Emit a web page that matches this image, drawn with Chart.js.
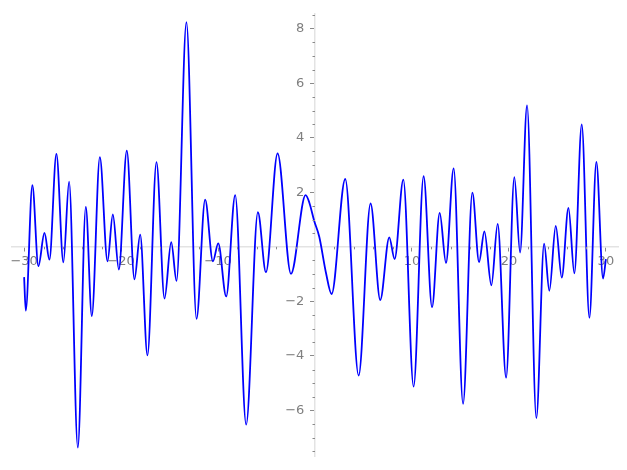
<!DOCTYPE html>
<html>
<head>
<meta charset="utf-8">
<script src="https://cdn.jsdelivr.net/npm/chart.js@4/dist/chart.umd.min.js"></script>
<style>
  html, body { margin: 0; padding: 0; background: #ffffff; }
  #wrap { width: 627px; height: 470px; position: relative; }
</style>
</head>
<body>
<div id="wrap"><canvas id="c" width="627" height="470"></canvas></div>
<script>
// Curve samples (extrema plus a few shoulder points)
const xValues = [
  -30, -29.83, -29.15, -28.53, -27.9, -27.39, -26.67, -25.95, -25.36, -24.46,
  -23.64, -23.02, -22.19, -21.4, -20.85, -20.23, -19.41, -18.62, -18.03, -17.28,
  -16.35, -15.52, -14.83, -14.28, -13.26, -12.22, -11.33, -10.53, -9.98, -9.16,
  -8.23, -7.1, -5.89, -5.06, -3.86, -2.48, -0.97, -0.59, -0.08, 0.44, 1.13, 1.71,
  3.12, 4.5, 5.73, 6.73, 7.66, 8.21, 9.11, 10.17, 11.2, 12.07,
  12.86, 13.51, 14.3, 15.27, 16.23, 16.92, 17.47, 18.19, 18.84, 19.71,
  20.56, 21.15, 21.87, 22.83, 23.63, 24.17, 24.83, 25.45, 26.14, 26.75,
  27.51, 28.3, 29.02, 29.71, 30
];
const yValues = [
  -1.11, -2.34, 2.26, -0.71, 0.51, -0.47, 3.41, -0.57, 2.39, -7.36,
  1.47, -2.54, 3.29, -0.53, 1.19, -0.83, 3.53, -1.19, 0.45, -3.98,
  3.11, -1.9, 0.17, -1.25, 8.24, -2.64, 1.73, -0.53, 0.13, -1.82,
  1.9, -6.52, 1.27, -0.93, 3.43, -0.99, 1.9, 1.63, 0.95, 0.37, -0.95, -1.73,
  2.49, -4.72, 1.59, -1.95, 0.35, -0.45, 2.47, -5.13, 2.59, -2.21,
  1.25, -0.59, 2.88, -5.76, 1.99, -0.56, 0.57, -1.41, 0.84, -4.8,
  2.56, -0.21, 5.19, -6.28, 0.12, -1.61, 0.77, -1.13, 1.43, -0.97,
  4.49, -2.6, 3.12, -1.16, -0.45
];
const xMajorTicks = [-30, -20, -10, 10, 20, 30];
const yMajorTicks = [-6, -4, -2, 2, 4, 6, 8];
const xRange = [-31.25, 31.25];
const yRange = [-7.68, 8.55];

const points = xValues.map((x, i) => ({ x: x, y: yValues[i] }));
const fmt = v => (v < 0 ? '\u2212' + Math.abs(v) : String(v));
const AXIS_COLOR = '#e3e3e3';
const TICK_COLOR = '#8a8a8a';
const LABEL_COLOR = '#7f7f7f';

const minorTicks = {
  id: 'minorTicks',
  afterDraw(chart) {
    const ctx = chart.ctx, xs = chart.scales.x, ys = chart.scales.y;
    const x0 = xs.getPixelForValue(0), y0 = ys.getPixelForValue(0);
    ctx.save();
    ctx.strokeStyle = TICK_COLOR;
    ctx.lineWidth = 1;
    for (let v = Math.ceil(yRange[0] * 2) / 2; v <= yRange[1]; v += 0.5) {
      if (Math.abs(v % 2) < 1e-9) continue;
      const p = Math.round(ys.getPixelForValue(v)) + 0.5;
      ctx.beginPath(); ctx.moveTo(x0 - 2.5, p); ctx.lineTo(x0, p); ctx.stroke();
    }
    for (let v = -30; v <= 30; v += 2) {
      if (v % 10 === 0) continue;
      const p = Math.round(xs.getPixelForValue(v)) + 0.5;
      ctx.beginPath(); ctx.moveTo(p, y0); ctx.lineTo(p, y0 + 2.5); ctx.stroke();
    }
    ctx.restore();
  }
};

new Chart(document.getElementById('c'), {
  type: 'scatter',
  data: {
    datasets: [{
      data: points,
      showLine: true,
      borderColor: '#0000ff',
      borderWidth: 1.8,
      pointRadius: 0,
      cubicInterpolationMode: 'monotone',
      fill: false
    }]
  },
  options: {
    responsive: false,
    animation: false,
    events: [],
    layout: { padding: { left: 12, right: 9, top: 10, bottom: 10 } },
    plugins: { legend: { display: false }, tooltip: { enabled: false } },
    scales: {
      x: {
        type: 'linear',
        position: { y: 0 },
        min: xRange[0], max: xRange[1],
        afterBuildTicks: s => { s.ticks = xMajorTicks.map(v => ({ value: v })); },
        grid: { drawOnChartArea: false, drawTicks: true, tickLength: 4, tickColor: TICK_COLOR, tickWidth: 1 },
        border: { display: true, color: AXIS_COLOR, width: 1.5 },
        ticks: {
          color: LABEL_COLOR, padding: 3, maxRotation: 0,
          font: { family: 'DejaVu Sans', size: 13 },
          callback: v => fmt(v)
        }
      },
      y: {
        type: 'linear',
        position: { x: 0 },
        min: yRange[0], max: yRange[1],
        afterBuildTicks: s => { s.ticks = yMajorTicks.map(v => ({ value: v })); },
        grid: { drawOnChartArea: false, drawTicks: true, tickLength: 4, tickColor: TICK_COLOR, tickWidth: 1 },
        border: { display: true, color: AXIS_COLOR, width: 1.5 },
        ticks: {
          color: LABEL_COLOR, padding: 6,
          font: { family: 'DejaVu Sans', size: 13 },
          callback: v => fmt(v) + '\u2002 '
        }
      }
    }
  },
  plugins: [minorTicks]
});
</script>
</body>
</html>
